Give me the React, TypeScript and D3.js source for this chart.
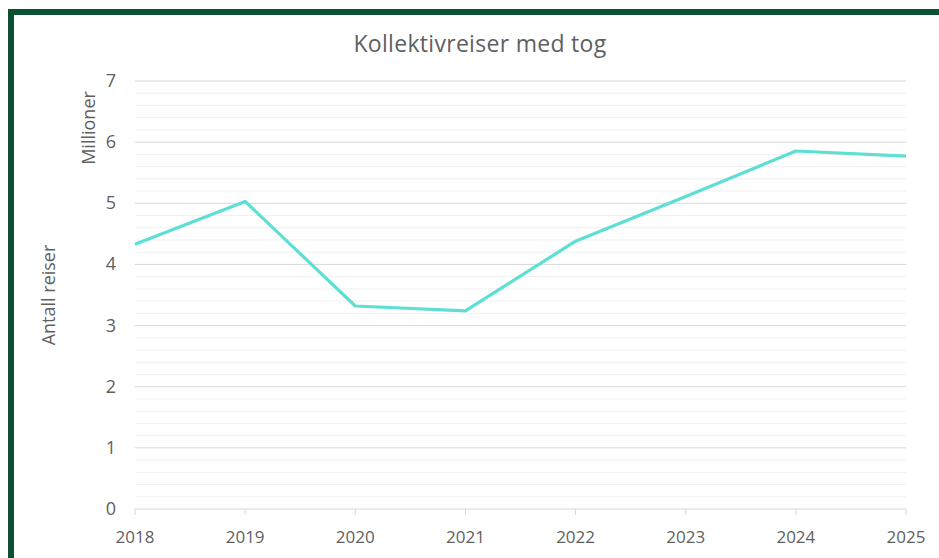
import React from "react";
import * as d3 from "d3";

const years = ["2018", "2019", "2020", "2021", "2022", "2023", "2024", "2025"];
const values = [4.33, 5.03, 3.32, 3.24, 4.38, 5.11, 5.855, 5.77];
const yTicks = [0, 1, 2, 3, 4, 5, 6, 7];
const title = "Kollektivreiser med tog";
const yTitle1 = "Millioner";
const yTitle2 = "Antall reiser";

const W = 939;
const H = 558;
const FONT = "'Open Sans', Lato, sans-serif";
const TXT = "#5f5f5f";

export default function App() {
  const x = d3.scalePoint<string>().domain(years).range([135, 906]);
  const y = d3.scaleLinear().domain([0, 7]).range([509, 81]);
  const minor = d3.range(0, 7.001, 0.2).filter((v) => Math.abs(v - Math.round(v)) > 1e-6);
  const line = d3
    .line<number>()
    .x((_, i) => x(years[i]) as number)
    .y((d) => y(d));

  return (
    <svg
      width={W}
      height={H}
      style={{ position: "absolute", left: 0, top: 0, background: "#fff" }}
    >
      <rect x={8} y={9} width={W - 8} height={H - 9} fill="#0b5030" />
      <rect x={14} y={15} width={W - 14} height={H - 15} fill="#fff" />
      <text
        x={480}
        y={52}
        textAnchor="middle"
        fontFamily={FONT}
        fontSize={23}
        letterSpacing={0.3}
        fill={TXT}
      >
        {title}
      </text>
      {minor.map((v, i) => (
        <line key={"m" + i} x1={135} x2={906} y1={y(v)} y2={y(v)} stroke="#f0f0f0" strokeWidth={1} />
      ))}
      {yTicks.map((v) => (
        <line
          key={"g" + v}
          x1={135}
          x2={906}
          y1={y(v)}
          y2={y(v)}
          stroke="#d9d9d9"
          strokeWidth={1}
        />
      ))}
      {years.map((yr) => (
        <line
          key={"t" + yr}
          x1={x(yr)}
          x2={x(yr)}
          y1={509}
          y2={515}
          stroke="#d9d9d9"
          strokeWidth={1}
        />
      ))}
      {yTicks.map((v) => (
        <text
          key={"yl" + v}
          x={116}
          y={y(v) + 6}
          textAnchor="end"
          fontFamily={FONT}
          fontSize={18}
          fill={TXT}
        >
          {v}
        </text>
      ))}
      {years.map((yr) => (
        <text
          key={"xl" + yr}
          x={x(yr)}
          y={543}
          textAnchor="middle"
          fontFamily={FONT}
          fontSize={17}
          fill={TXT}
        >
          {yr}
        </text>
      ))}
      <text
        transform={`translate(95,128) rotate(-90)`}
        textAnchor="middle"
        fontFamily={FONT}
        fontSize={18}
        fill={TXT}
      >
        {yTitle1}
      </text>
      <text
        transform={`translate(55,295) rotate(-90)`}
        textAnchor="middle"
        fontFamily={FONT}
        fontSize={18}
        fill={TXT}
      >
        {yTitle2}
      </text>
      <path
        d={line(values) || ""}
        fill="none"
        stroke="#5ddfd6"
        strokeWidth={3.2}
        strokeLinejoin="round"
      />
    </svg>
  );
}
